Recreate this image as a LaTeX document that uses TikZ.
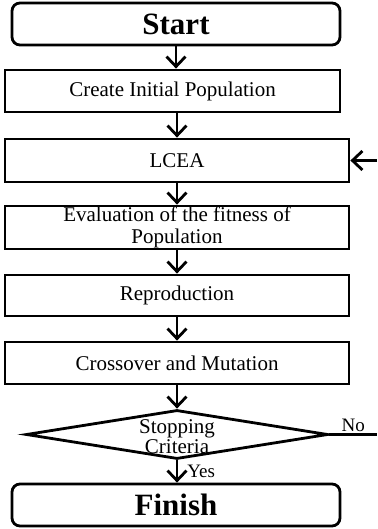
\documentclass[tikz,border=0pt]{standalone}
\usepackage{fontspec}
\setmainfont{Liberation Serif}
\usetikzlibrary{%
  arrows.meta,%
  shapes.geometric,% wg. diamond
  positioning%
}

\begin{document}
\begin{tikzpicture}
[x=1pt, y=-1pt, draw=black, line width=2.8pt, >={Straight Barb[length=10pt,width=19pt]},
terminal/.style={rectangle, rounded corners=8pt, draw, inner sep=0pt, minimum width=328pt, minimum height=42pt, font=\fontsize{31}{34}\selectfont\bfseries},
process/.style={rectangle, draw, inner sep=0pt, minimum width=344pt, minimum height=42pt, align=center, font=\fontsize{21}{22}\selectfont},
decision/.style={diamond, draw, inner sep=0pt, minimum width=302pt, minimum height=49pt},
tag/.style={inner sep=1pt, font=\fontsize{19}{21}\selectfont}]

\useasboundingbox (0,0) rectangle (377,529);

\node[terminal] (start) at (176,24) {Start};
\node[process, minimum width=335pt] (create) at (172.5,91) {Create Initial Population};
\node[process, minimum height=43pt] (lcea) at (177,160.5) {LCEA};
\node[process, minimum height=43pt] (eval) at (177,227.5) {Evaluation of the fitness of\\Population};
\node[process, minimum height=41pt] (repro) at (177,295.5) {Reproduction};
\node[process] (cross) at (177,363) {Crossover and Mutation};
\node[decision] (stop) at (177,434.5) {};
\node[align=center, inner sep=0pt, font=\fontsize{21}{20}\selectfont] (stoptext) at (177,437) {Stopping\\Criteria};
\node[terminal] (finish) at (176,505) {Finish};

\coordinate (loopin) at (377,160.5);
\coordinate (noend) at (377,434.5);

\draw[->] (start) -- (create.north -| start);
\draw[->] (create.south -| lcea) -- (lcea);
\draw[->] (lcea) -- (eval);
\draw[->] (eval) -- (repro);
\draw[->] (repro) -- (cross);
\draw[->] (cross) -- (stop);
\draw[->] (stop) -- node[tag, right, xshift=8pt] {Yes} (finish.north -| stop);
\draw (stop.east) -- node[tag, above] {No} (noend);
\draw[->] (loopin) -- (lcea);

\end{tikzpicture}
\end{document}
